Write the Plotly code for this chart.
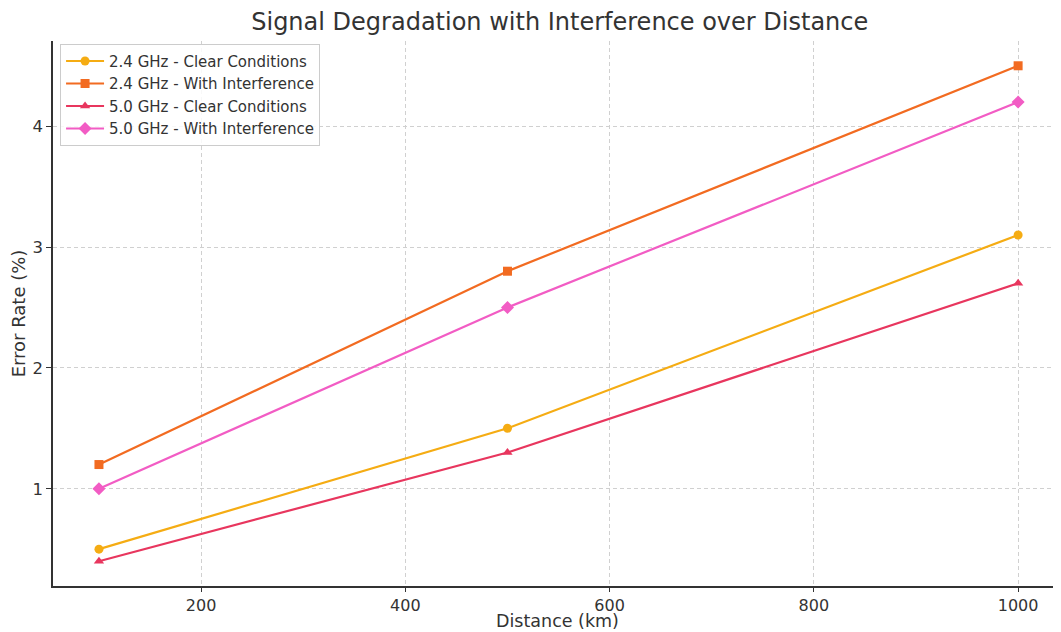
import plotly.graph_objects as go

distance = [100, 500, 1000]
series_names = ["2.4 GHz - Clear Conditions", "2.4 GHz - With Interference",
                "5.0 GHz - Clear Conditions", "5.0 GHz - With Interference"]
ghz24_clear = [0.5, 1.5, 3.1]
ghz24_interf = [1.2, 2.8, 4.5]
ghz50_clear = [0.4, 1.3, 2.7]
ghz50_interf = [1.0, 2.5, 4.2]

values = [ghz24_clear, ghz24_interf, ghz50_clear, ghz50_interf]
colors = ["#F5AC13", "#F26B21", "#E8365E", "#F25CC4"]
symbols = ["circle", "square", "triangle-up", "diamond"]
msizes = [9, 9, 9, 10]

fig = go.Figure()
for name, vals, c, s, ms in zip(series_names, values, colors, symbols, msizes):
    fig.add_trace(go.Scatter(x=distance, y=vals, name=name, mode="lines+markers",
                             line=dict(color=c, width=2.2),
                             marker=dict(symbol=s, size=ms, color=c)))

fig.update_layout(
    width=1053, height=624,
    margin=dict(l=45, r=0, t=33, b=46),
    paper_bgcolor="white", plot_bgcolor="white",
    font=dict(family="DejaVu Sans", color="#333333"),
    title=dict(text="Signal Degradation with Interference over Distance",
               x=0.524, xanchor="center", y=0.978, yanchor="middle",
               font=dict(size=24, color="#333333")),
    legend=dict(x=0.007, y=0.995, xanchor="left", yanchor="top",
                bgcolor="rgba(255,255,255,0.85)", bordercolor="#CCCCCC", borderwidth=1,
                font=dict(size=15, color="#333333"), tracegroupgap=0, itemwidth=38),
    showlegend=True,
)
fig.add_annotation(text="Distance (km)", xref="paper", yref="paper",
                   x=0.5, y=-0.0846, xanchor="center", yanchor="bottom",
                   showarrow=False, borderpad=0,
                   font=dict(size=17.5, color="#333333"))
grid_dash = "4px,3px"
fig.update_xaxes(range=[55, 1042], tickvals=[200, 400, 600, 800, 1000],
                 showgrid=True, gridcolor="#D0D0D0", griddash=grid_dash, gridwidth=1,
                 showline=True, linecolor="#333333", linewidth=1.5,
                 ticks="outside", ticklen=4, tickcolor="#333333",
                 tickfont=dict(size=16, color="#333333"),
                 zeroline=False)
fig.update_yaxes(range=[0.195, 4.705], tickvals=[1, 2, 3, 4],
                 showgrid=True, gridcolor="#D0D0D0", griddash=grid_dash, gridwidth=1,
                 showline=True, linecolor="#333333", linewidth=1.5,
                 ticks="outside", ticklen=5, tickcolor="#333333",
                 tickfont=dict(size=16.5, color="#333333"),
                 title=dict(text="Error Rate (%)", font=dict(size=18, color="#333333"), standoff=4),
                 zeroline=False)

fig.write_html("out.html")
